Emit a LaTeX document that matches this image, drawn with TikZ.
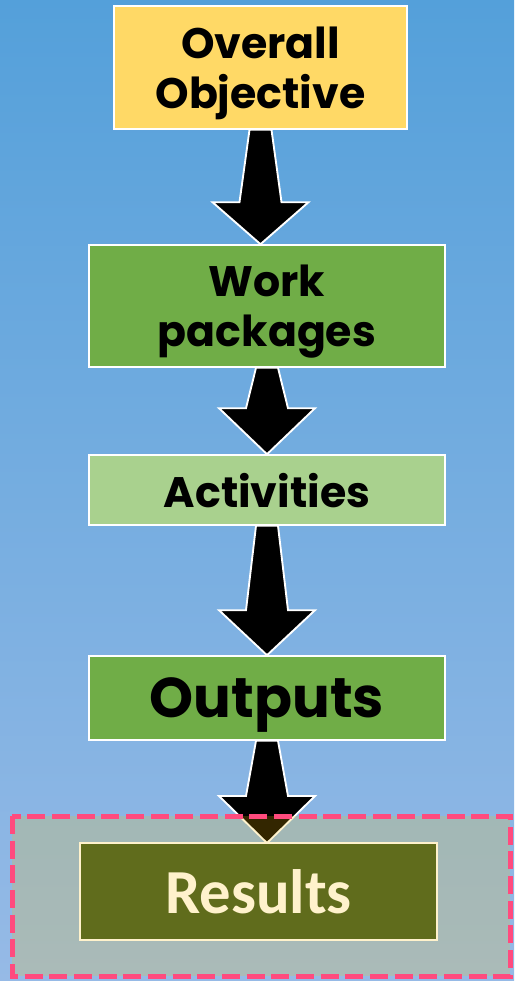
\documentclass[tikz,border=0pt]{standalone}
\usepackage{fontspec}
\usepackage{tikz}
\usetikzlibrary{calc}
\usepackage{xcolor}
\newfontfamily\boxfont{Poppins}
\newfontfamily\resfont{Carlito}

\definecolor{bgtop}{RGB}{84,160,218}
\definecolor{bgbot}{RGB}{150,186,230}
\definecolor{objyellow}{RGB}{255,217,102}
\definecolor{wpgreen}{RGB}{112,173,71}
\definecolor{actgreen}{RGB}{169,209,142}
\definecolor{resolive}{RGB}{96,108,28}
\definecolor{rescream}{RGB}{255,242,204}
\definecolor{framepink}{RGB}{255,75,126}
\definecolor{framegold}{RGB}{255,192,0}

\tikzset{
	stagebox/.style={draw=white, line width=1.2pt, inner sep=0pt, align=center, text depth=0pt, text=black, font=\boxfont\bfseries\fontsize{32}{37.5}\selectfont},
	flowarrow/.style={draw=white, line width=1.4pt, fill=black, line join=miter},
}

% block arrow from the bottom of #1 down to the top of #2, head length #3
\newcommand{\flowarrow}[3]{%
	\draw[flowarrow] ($(#1.south)+(-11,0)$) -- ($(#1.south |- #2.north)+(-21,-#3)$) -- ($(#1.south |- #2.north)+(-48,-#3)$) -- (#1.south |- #2.north) -- ($(#1.south |- #2.north)+(48,-#3)$) -- ($(#1.south |- #2.north)+(21,-#3)$) -- ($(#1.south)+(11,0)$) -- cycle ;}

\begin{document}
\begin{tikzpicture}[x=0.75pt,y=0.75pt,yscale=-1,xscale=1]
		\useasboundingbox (0,0) rectangle (514,981);
		
		%Shape: Background
		\shade [top color=bgtop, bottom color=bgbot] (0,0) rectangle (514,981);
		
		% Text Node
		\node [stagebox, fill=objyellow, minimum width=219.75pt, minimum height=92.25pt] (objective) at (260.5,67.5) {Overall\\Objective};
		% Text Node
		\node [stagebox, fill=wpgreen, minimum width=267pt, minimum height=91.5pt] (packages) at (267,306) {Work\\packages};
		% Text Node
		\node [stagebox, fill=actgreen, minimum width=267pt, minimum height=52.5pt] (activities) at (267,490) {Activities};
		% Text Node
		\node [stagebox, fill=wpgreen, minimum width=267pt, minimum height=63pt, font=\boxfont\bfseries\fontsize{42}{48}\selectfont] (outputs) at (267,698) {Outputs};
		
		%Block Arrows
		\flowarrow{objective}{packages}{42}
		\flowarrow{packages}{activities}{46}
		\flowarrow{activities}{outputs}{45}
		
		% coordinate for the results box (drawn last)
		\coordinate (resnorth) at (258.5,843);
		\draw[flowarrow] ($(outputs.south)+(-11,0)$) -- ($(outputs.south |- resnorth)+(-21,-47)$) -- ($(outputs.south |- resnorth)+(-48,-47)$) -- (outputs.south |- resnorth) -- ($(outputs.south |- resnorth)+(48,-47)$) -- ($(outputs.south |- resnorth)+(21,-47)$) -- ($(outputs.south)+(11,0)$) -- cycle ;
		
		%Shape: Dashed Frame
		\fill [framegold, fill opacity=0.2] (12,816) rectangle (510,976);
		\draw [framepink, line width=3.75pt, dash pattern=on 13.5pt off 5pt] (12,816) rectangle (510,976);
		
		% Text Node
		\node [draw=rescream, line width=1.2pt, fill=resolive, text=rescream, inner sep=0pt, minimum width=267.75pt, minimum height=72.75pt, font=\resfont\bfseries\fontsize{47}{52}\selectfont] (results) at (258.5,891.5) {Results};
		
\end{tikzpicture}
\end{document}
